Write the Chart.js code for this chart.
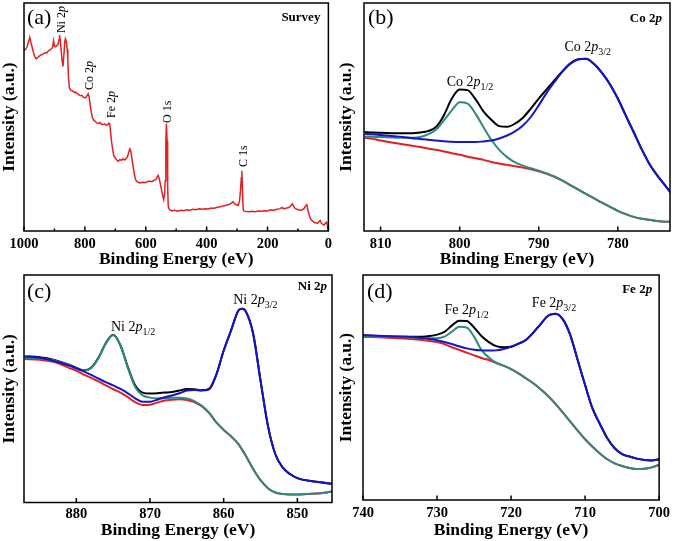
<!DOCTYPE html>
<html>
<head>
<meta charset="utf-8">
<title>XPS spectra</title>
<script src="https://cdn.jsdelivr.net/npm/chart.js@4.4.1/dist/chart.umd.min.js"></script>
<style>
  body { margin: 0; background: #fff; }
  #fig { position: relative; width: 675px; height: 541px; }
  canvas { position: absolute; }
</style>
</head>
<body>
<div id="fig">
  <canvas id="chartA" width="337" height="270" style="left:0;top:0"></canvas>
  <canvas id="chartB" width="338" height="270" style="left:337px;top:0"></canvas>
  <canvas id="chartC" width="337" height="271" style="left:0;top:270px"></canvas>
  <canvas id="chartD" width="338" height="271" style="left:337px;top:270px"></canvas>
</div>
<script>
// ---- (a) survey spectrum ----
const surveyEnergy = [1000,995,990,985,981,977,973,968,964,960,955,950,945,940,935,930,925,920,915,910,906,903,900,896,892,888,885,883,880,877,875,872,869,866,864,861,858,856,854,851,848,845,840,835,830,825,820,815,810,805,800,796,792,789,786,783,779,775,770,765,760,755,750,745,740,735,730,725,721,718,715,712,709,705,700,695,690,685,680,675,670,665,660,656,652,649,646,642,638,634,630,620,610,600,590,580,572,566,562,559,556,552,548,544,541,538,536,534,532,530,528,526,522,515,505,495,485,475,465,455,445,435,425,415,405,395,385,375,365,355,345,335,325,318,313,308,302,296,292,289,286,284,282,280,277,270,260,250,240,230,220,210,200,190,180,170,160,152,148,140,130,124,119,115,111,106,100,92,85,79,75,71,67,63,58,52,46,40,35,30,27,23,18,14,10,6,3,0];
const surveyCounts = [79.3,79.6,80.8,83.0,84.9,82.5,80.5,77.8,76.4,75.5,76.1,76.7,77.1,77.5,77.8,78.3,78.1,79.0,79.3,79.9,80.5,83.4,81.1,80.8,81.4,81.9,84.0,85.9,82.5,78.1,74.9,72.2,77.1,83.0,84.4,83.4,79.6,75.2,67.5,62.8,61.9,61.7,61.4,60.8,60.9,60.2,59.8,59.3,59.5,58.7,58.4,58.7,59.6,60.2,58.7,55.8,52.1,49.6,48.5,47.9,47.4,47.1,47.6,46.8,46.7,47.0,46.4,46.6,47.3,46.7,42.6,38.9,36.0,33.0,32.0,31.1,30.5,31.4,31.0,31.7,31.1,31.6,32.6,34.5,36.0,35.0,32.3,28.6,25.3,22.8,21.7,21.1,21.4,21.3,21.9,21.6,22.3,22.6,23.8,24.4,23.2,20.6,17.9,15.4,13.8,16.2,22.0,39.6,47.0,39.6,19.1,10.6,9.4,8.8,9.1,8.7,9.1,8.9,9.3,9.1,9.5,9.3,9.7,9.5,9.8,9.7,10.1,10.0,10.4,10.6,11.0,11.3,11.7,12.3,12.8,12.0,11.5,11.2,13.2,17.3,23.5,26.4,16.2,9.5,8.7,8.5,8.4,8.7,8.5,8.8,8.7,8.9,8.8,9.3,9.1,9.5,9.7,10.3,9.8,10.0,10.3,10.9,11.9,11.2,10.1,9.7,9.4,9.1,9.3,10.1,11.0,11.5,9.1,7.0,5.1,4.4,3.7,3.5,3.4,4.3,4.6,3.4,2.9,2.6,3.4,3.8,2.6,0.0];

// ---- (b) Co 2p ----
const coEnergy = [812,811,810,808,806,805,804,803,802,801,800,799,798,797,796,795,794,793,792,791,790,789,788,787,786,785,784,783,782,781,780,779,778,777,776,775,774,773];
const coEnvelope = [43.4,43.2,43.1,42.9,42.9,43.2,43.8,45.6,50.7,58.1,62.1,61.8,57.8,52.5,48.8,46.0,45.7,47.1,49.7,53.7,58.1,62.1,66.2,70.1,73.5,75.3,75.6,73.2,69.4,64.4,58.1,50.7,43.4,36.0,29.4,24.3,19.9,15.4];
const co2p32 = [42.6,42.4,42.1,41.5,40.7,40.4,40.0,39.7,39.4,39.1,39.0,39.0,39.0,39.3,39.7,40.6,41.9,43.7,46.3,50.0,55.1,60.6,65.4,69.9,73.4,75.3,75.6,73.2,69.4,64.4,58.1,50.7,43.4,36.0,29.4,24.3,19.9,15.4];
const co2p12 = [41.5,41.3,41.2,40.9,40.9,41.2,42.4,44.4,48.5,52.9,56.5,55.9,51.5,45.6,40.0,35.6,32.4,30.1,28.7,27.5,26.5,25.3,23.8,22.1,20.1,18.1,16.2,14.3,12.4,10.6,8.8,7.4,6.2,5.4,4.9,4.4,4.1,4.0];
const coBackground = [40.9,40.4,39.7,38.5,37.4,36.8,36.2,35.6,34.9,34.1,33.4,32.6,31.9,31.2,30.3,29.6,29.0,28.4,27.8,27.1,26.2,25.1,23.8,22.1,20.1,18.1,16.2,14.3,12.4,10.6,8.8,7.4,6.2,5.4,4.9,4.4,4.1,4.0];

// ---- (c) Ni 2p ----
const niEnergy = [887,885,883,881,880,879,878,877,876,875,874,873,872,871,870,869,868,867,866,865,864,863,862,861,860,859,858,857.5,857,856,855,854,853,852,851,850,848,846,845];
const niEnvelope = [64.2,63.9,62.7,60.6,59.2,58.1,59.2,63.6,70.0,73.7,69.0,59.5,51.4,48.3,47.9,48.0,48.3,48.6,49.2,49.9,49.8,49.3,49.9,56.2,66.8,75.6,84.4,85.2,84.0,74.2,53.6,33.8,21.3,15.4,12.5,10.7,9.3,8.5,8.1];
const ni2p32 = [64.2,63.6,62.2,60.2,59.0,57.6,56.1,54.5,52.9,51.5,49.9,48.0,45.8,44.3,44.3,45.2,46.3,47.0,48.0,49.2,49.5,49.2,49.6,56.2,66.8,75.6,84.4,85.2,84.0,74.2,53.6,33.8,21.3,15.4,12.5,10.7,9.3,8.5,8.1];
const ni2p12 = [63.6,63.3,62.4,60.4,59.0,58.0,59.0,63.4,69.9,73.6,68.9,59.2,50.7,47.1,46.1,45.8,45.8,46.0,46.0,45.7,44.6,42.6,39.6,35.2,31.9,29.1,25.7,23.2,20.6,14.7,9.8,6.3,4.4,3.7,3.5,3.5,3.8,4.4,5.0];
const niBackground = [63.1,62.7,61.7,59.2,58.0,56.2,54.8,53.2,51.5,49.8,48.3,46.3,44.1,42.9,43.0,43.9,44.8,45.2,45.4,45.1,44.1,42.3,39.4,35.2,31.9,29.1,25.7,23.2,20.6,14.7,9.8,6.3,4.4,3.7,3.5,3.5,3.8,4.4,5.0];

// ---- (d) Fe 2p ----
const feEnergy = [740,738,736,734,732,731,730,729,728,727,726,725,724,723,722,721,720,719,718,717,716,715,714,713,712,711,710,709,708,707,706,705,704,703,702,701,700];
const feEnvelope = [73.0,72.9,72.7,72.6,72.6,72.9,73.5,74.7,77.5,79.7,79.6,76.7,72.9,70.2,68.4,67.9,68.1,69.5,71.1,74.4,78.2,81.9,82.8,80.3,73.3,62.2,51.1,40.7,33.8,27.4,23.0,20.4,19.3,18.4,17.8,17.6,18.1];
const fe2p32 = [73.3,73.0,72.7,72.6,72.0,71.6,71.0,70.2,69.3,68.3,67.4,66.8,66.5,66.4,66.5,67.1,68.1,69.5,71.1,74.4,78.2,81.9,82.8,80.3,73.3,62.2,51.1,40.7,33.8,27.4,23.0,20.4,19.3,18.4,17.8,17.6,18.1];
const fe2p12 = [72.6,72.4,72.4,72.3,72.0,71.9,71.9,72.6,74.8,77.0,76.7,72.6,66.7,63.3,61.0,59.7,58.2,56.3,54.1,51.9,49.2,46.2,42.7,38.8,34.8,30.8,27.0,23.7,20.7,18.1,16.3,15.1,14.2,13.8,13.9,14.5,15.6];
const feBackground = [72.6,72.3,72.0,71.7,71.1,70.7,70.2,69.3,67.9,66.7,65.5,64.3,63.1,62.2,60.9,59.6,58.2,56.3,54.1,51.9,49.2,46.2,42.7,38.8,34.8,30.8,27.0,23.7,20.7,18.1,16.3,15.1,14.2,13.8,13.9,14.5,15.6];

const SERIF = "'Liberation Serif', 'Times New Roman', serif";
const RED = '#e3201f', TEAL = '#2b8a82', BLUE = '#1414c8', BLACK = '#000000';

function pts(xs, ys) {
    return xs.map((x, i) => ({ x: x, y: ys[i] }));
}

function line(xs, ys, color, width, smooth) {
    return {
        data: pts(xs, ys),
        borderColor: color,
        borderWidth: width,
        pointRadius: 0,
        fill: false,
        tension: 0,
        cubicInterpolationMode: smooth ? 'monotone' : 'default'
    };
}

// draw text made of several runs: [text, style]
function drawRich(ctx, x, y, parts, size, align) {
    const fontFor = st => {
        if (st === 's') return Math.round(size * 0.72) + 'px ' + SERIF;
        if (st === 'i') return 'italic ' + size + 'px ' + SERIF;
        if (st === 'b') return 'bold ' + size + 'px ' + SERIF;
        if (st === 'bi') return 'italic bold ' + size + 'px ' + SERIF;
        return size + 'px ' + SERIF;
    };
    let total = 0;
    parts.forEach(([t, st]) => { ctx.font = fontFor(st); total += ctx.measureText(t).width; });
    let cx = align === 'center' ? x - total / 2 : align === 'right' ? x - total : x;
    ctx.textAlign = 'left';
    parts.forEach(([t, st]) => {
        ctx.font = fontFor(st);
        ctx.fillText(t, cx, st === 's' ? y + size * 0.28 : y);
        cx += ctx.measureText(t).width;
    });
}

// box around the plot + inward ticks on the bottom axis + text labels
const framePlugin = {
    id: 'frame',
    afterDatasetsDraw(chart, args, opts) {
        const { ctx, chartArea: a, scales } = chart;
        const xs = scales.x, ys = scales.y;
        ctx.save();
        ctx.strokeStyle = '#000';
        ctx.lineWidth = 1.5;
        ctx.strokeRect(a.left, a.top, a.right - a.left, a.bottom - a.top);
        xs.ticks.forEach(t => {
            const px = xs.getPixelForValue(t.value);
            const len = (opts.labelEvery && t.value % opts.labelEvery) ? 2.5 : 4.5;
            ctx.beginPath();
            ctx.moveTo(px, a.bottom);
            ctx.lineTo(px, a.bottom - len);
            ctx.stroke();
        });
        ctx.fillStyle = '#000';
        ctx.textBaseline = 'alphabetic';
        (opts.labels || []).forEach(l => {
            if (l.corner) {
                const px = l.corner === 'left' ? a.left + l.dx : a.right - l.dx;
                drawRich(ctx, px, a.top + l.dy, l.parts, l.size, l.corner);
            } else if (l.rotate) {
                ctx.save();
                ctx.translate(xs.getPixelForValue(l.x), ys.getPixelForValue(l.y));
                ctx.rotate(-Math.PI / 2);
                ctx.textBaseline = 'middle';
                drawRich(ctx, 0, 0, l.parts, l.size, 'left');
                ctx.restore();
            } else {
                drawRich(ctx, xs.getPixelForValue(l.x), ys.getPixelForValue(l.y), l.parts, l.size, 'center');
            }
        });
        ctx.restore();
    }
};

function makePanel(id, cfg) {
    new Chart(document.getElementById(id), {
        type: 'line',
        data: { datasets: cfg.datasets },
        plugins: [framePlugin],
        options: {
            responsive: false,
            animation: false,
            devicePixelRatio: 1,
            layout: { padding: { top: cfg.top, right: cfg.right, left: 0, bottom: 0 } },
            plugins: {
                legend: { display: false },
                tooltip: { enabled: false },
                frame: { labels: cfg.labels, labelEvery: cfg.labelEvery }
            },
            scales: {
                x: {
                    type: 'linear',
                    reverse: true,
                    min: cfg.min,
                    max: cfg.max,
                    grid: { display: false, drawTicks: false },
                    border: { display: false },
                    ticks: {
                        stepSize: cfg.step,
                        includeBounds: false,
                        autoSkip: false,
                        maxRotation: 0,
                        padding: cfg.tickPad,
                        color: '#000',
                        font: { family: SERIF, size: 14.5, weight: 'bold' },
                        callback: v => (cfg.labelEvery && v % cfg.labelEvery) ? '' : v
                    },
                    title: {
                        display: true,
                        text: 'Binding Energy (eV)',
                        color: '#000',
                        padding: { top: 0, bottom: 2 },
                        font: { family: SERIF, size: 17.5, weight: 'bold', lineHeight: 1 }
                    },
                    afterFit: s => { s.height = cfg.xHeight; }
                },
                y: {
                    min: 0,
                    max: 100,
                    grid: { display: false, drawTicks: false },
                    border: { display: false },
                    ticks: { display: false },
                    title: {
                        display: true,
                        text: 'Intensity (a.u.)',
                        color: '#000',
                        padding: { top: 1, bottom: 0 },
                        font: { family: SERIF, size: 17.5, weight: 'bold', lineHeight: 1 }
                    },
                    afterFit: s => { s.width = cfg.yWidth; }
                }
            }
        }
    });
}

const sub = (el, n) => [[el + ' 2', ''], ['p', 'i'], [n, 's']];
const tag = el => [[el + ' 2', 'b'], ['p', 'bi']];
const rot = el => [[el + ' 2', ''], ['p', 'i']];

makePanel('chartA', {
    datasets: [line(surveyEnergy, surveyCounts, RED, 1.5, false)],
    min: 0, max: 1000, step: 100, labelEvery: 200,
    top: 3, right: 6, yWidth: 24, xHeight: 39, tickPad: 5,
    labels: [
        { corner: 'left', dx: 3, dy: 21, size: 22, parts: [['(a)', '']] },
        { corner: 'right', dx: 8, dy: 18, size: 13, parts: [['Survey', 'b']] },
        { rotate: true, x: 877, y: 86.8, size: 12, parts: rot('Ni') },
        { rotate: true, x: 782.7, y: 61.8, size: 12, parts: rot('Co') },
        { rotate: true, x: 712.4, y: 49.6, size: 12, parts: rot('Fe') },
        { rotate: true, x: 527.7, y: 47.4, size: 12, parts: [['O 1s', '']] },
        { rotate: true, x: 277.9, y: 28.1, size: 12, parts: [['C 1s', '']] }
    ]
});

makePanel('chartB', {
    datasets: [
        line(coEnergy, co2p32, BLUE, 2, true),
        line(coEnergy, co2p12, TEAL, 2, true),
        line(coEnergy, coBackground, RED, 2, true),
        line(coEnergy, coEnvelope, BLACK, 2, true)
    ],
    min: 773.4, max: 812.1, step: 10,
    top: 3, right: 5, yWidth: 27, xHeight: 39, tickPad: 5,
    labels: [
        { corner: 'left', dx: 4, dy: 21, size: 22, parts: [['(b)', '']] },
        { corner: 'right', dx: 8, dy: 19, size: 13, parts: tag('Co') },
        { x: 798.7, y: 63.6, size: 14, parts: sub('Co', '1/2') },
        { x: 783.8, y: 78.9, size: 14, parts: sub('Co', '3/2') }
    ]
});

makePanel('chartC', {
    datasets: [
        line(niEnergy, ni2p32, BLUE, 2, true),
        line(niEnergy, ni2p12, TEAL, 2, true),
        line(niEnergy, niBackground, RED, 2, true),
        line(niEnergy, niEnvelope, BLACK, 2, true)
    ],
    min: 845.3, max: 887.1, step: 10,
    top: 5, right: 5, yWidth: 24, xHeight: 38.5, tickPad: 3,
    labels: [
        { corner: 'left', dx: 3, dy: 23, size: 22, parts: [['(c)', '']] },
        { corner: 'right', dx: 5, dy: 15, size: 13, parts: tag('Ni') },
        { x: 872.3, y: 75.4, size: 14, parts: sub('Ni', '1/2') },
        { x: 855.7, y: 87.3, size: 14, parts: sub('Ni', '3/2') }
    ]
});

makePanel('chartD', {
    datasets: [
        line(feEnergy, fe2p32, BLUE, 2, true),
        line(feEnergy, fe2p12, TEAL, 2, true),
        line(feEnergy, feBackground, RED, 2, true),
        line(feEnergy, feEnvelope, BLACK, 2, true)
    ],
    min: 700, max: 740, step: 10,
    top: 5, right: 11, yWidth: 26, xHeight: 41, tickPad: 5,
    labels: [
        { corner: 'left', dx: 4, dy: 23, size: 22, parts: [['(d)', '']] },
        { corner: 'right', dx: 7, dy: 18, size: 13, parts: tag('Fe') },
        { x: 726.0, y: 82.7, size: 14, parts: sub('Fe', '1/2') },
        { x: 714.2, y: 85.8, size: 14, parts: sub('Fe', '3/2') }
    ]
});
</script>
</body>
</html>
